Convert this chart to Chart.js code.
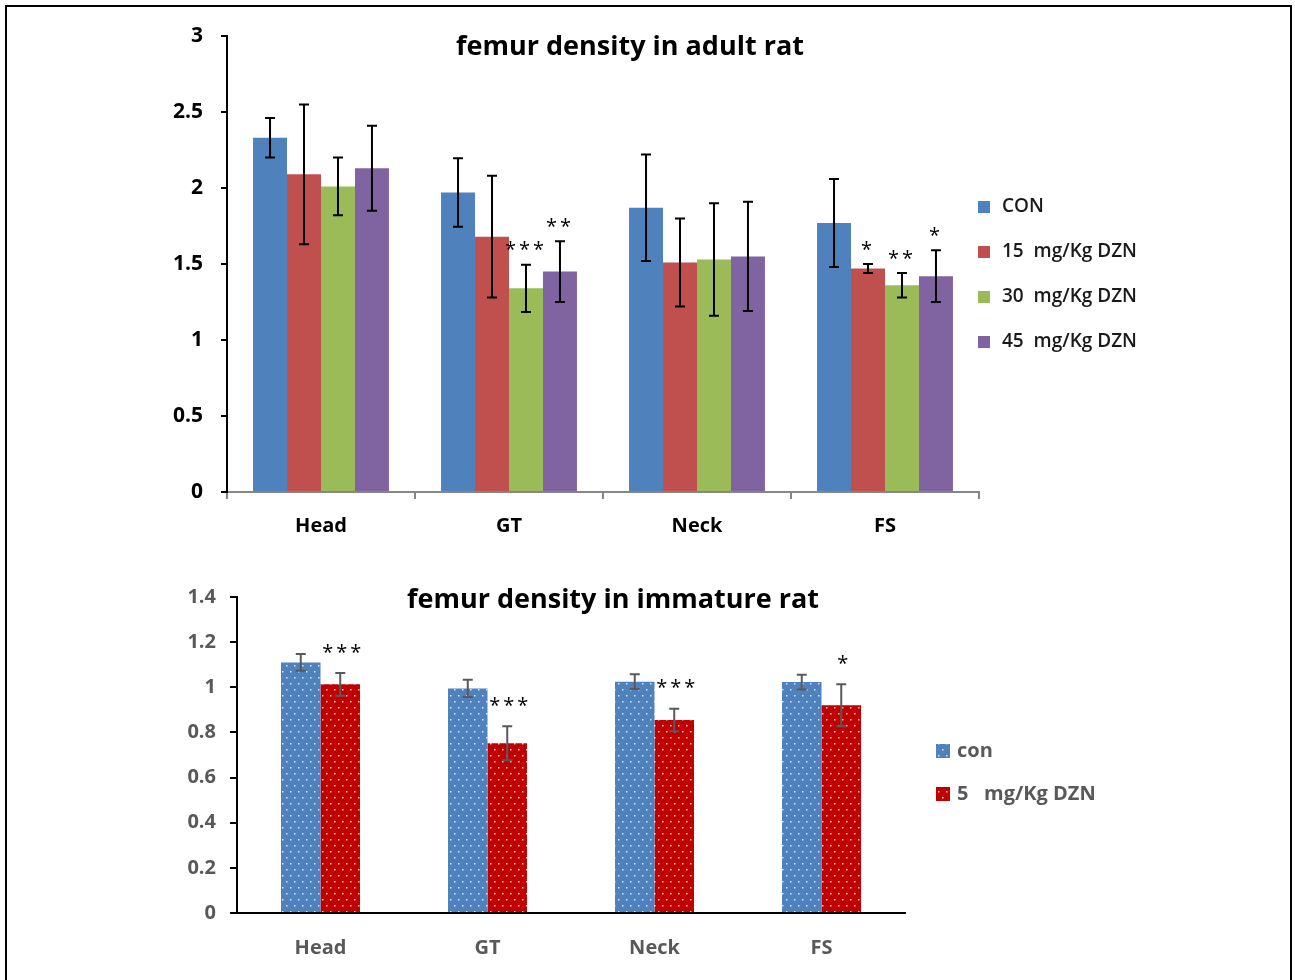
<!DOCTYPE html>
<html>
<head>
  <title>femur density</title>
  <script src="https://cdn.jsdelivr.net/npm/chart.js"></script>
  <style>
    body { margin: 0; background: #fff; }
    #frame { position: absolute; left: 5px; top: 5px; width: 1283px; height: 1000px; border: 2px solid #000; }
    #adultBox { position: absolute; left: 0; top: 0; }
    #immBox { position: absolute; left: 0; top: 560px; }
  </style>
</head>
<body>
  <div id="frame"></div>
  <div id="adultBox"><canvas id="adultChart" width="1295" height="560"></canvas></div>
  <div id="immBox"><canvas id="immChart" width="1295" height="420"></canvas></div>

  <script>
    // adult rat
    const sites = ['Head', 'GT', 'Neck', 'FS'];
    const adultLabels = ['CON', '15  mg/Kg DZN', '30  mg/Kg DZN', '45  mg/Kg DZN'];
    const adultCon = [2.33, 1.97, 1.87, 1.77];
    const adult15 = [2.09, 1.68, 1.51, 1.47];
    const adult30 = [2.01, 1.34, 1.53, 1.36];
    const adult45 = [2.13, 1.45, 1.55, 1.42];
    const adultConErr = [0.13, 0.225, 0.35, 0.29];
    const adult15Err = [0.46, 0.40, 0.29, 0.03];
    const adult30Err = [0.19, 0.155, 0.37, 0.08];
    const adult45Err = [0.28, 0.20, 0.36, 0.17];
    const adult15Stars = ['', '', '', '*'];
    const adult30Stars = ['', '***', '', '**'];
    const adult45Stars = ['', '**', '', '*'];

    // immature rat
    const immLabels = ['con', '5   mg/Kg DZN'];
    const immCon = [1.11, 0.995, 1.025, 1.023];
    const immDzn = [1.013, 0.752, 0.855, 0.92];
    const immConErr = [0.037, 0.038, 0.033, 0.033];
    const immDznErr = [0.05, 0.075, 0.05, 0.093];
    const immDznStars = ['***', '***', '***', '*'];

    const FONT = "'Open Sans', 'Liberation Sans', sans-serif";
    const shortNum = v => String(Math.round(v * 10) / 10);

    function dotPattern(base) {
      const c = document.createElement('canvas');
      c.width = 8; c.height = 12;
      const g = c.getContext('2d');
      g.fillStyle = base;
      g.fillRect(0, 0, 8, 12);
      g.fillStyle = 'rgba(255,255,255,0.8)';
      g.fillRect(2, 3, 1.5, 1.5);
      g.fillRect(6, 9, 1.5, 1.5);
      return g.createPattern(c, 'repeat');
    }

    const errorBars = {
      id: 'errorBars',
      afterDatasetsDraw(chart, args, o) {
        const ctx = chart.ctx;
        const y = chart.scales.y;
        chart.data.datasets.forEach((ds, i) => {
          const meta = chart.getDatasetMeta(i);
          meta.data.forEach((bar, j) => {
            const v = ds.data[j], e = ds.errors[j];
            const top = y.getPixelForValue(v + e);
            const bot = y.getPixelForValue(v - e);
            ctx.save();
            ctx.strokeStyle = o.color;
            ctx.lineWidth = o.width;
            ctx.beginPath();
            ctx.moveTo(bar.x, top); ctx.lineTo(bar.x, bot);
            ctx.moveTo(bar.x - o.cap, top); ctx.lineTo(bar.x + o.cap, top);
            ctx.moveTo(bar.x - o.cap, bot); ctx.lineTo(bar.x + o.cap, bot);
            ctx.stroke();
            const s = ds.stars && ds.stars[j];
            if (s) {
              ctx.fillStyle = o.starColor;
              ctx.font = o.starFont;
              ctx.letterSpacing = '3px';
              ctx.textAlign = 'center';
              ctx.textBaseline = 'middle';
              ctx.fillText(s, bar.x + o.starDx, top - o.starGap);
            }
            ctx.restore();
          });
        });
      }
    };

    const sideLegend = {
      id: 'sideLegend',
      afterDraw(chart, args, o) {
        const ctx = chart.ctx;
        ctx.save();
        chart.data.datasets.forEach((ds, i) => {
          const cy = o.y + i * o.gap;
          ctx.fillStyle = ds.backgroundColor;
          ctx.fillRect(o.x, cy - o.box / 2, o.box, o.box);
          ctx.fillStyle = o.color;
          ctx.font = o.font;
          ctx.textAlign = 'left';
          ctx.textBaseline = 'middle';
          ctx.fillText(ds.label, o.x + o.box + o.textGap, cy);
        });
        ctx.restore();
      }
    };

    const freeTitle = {
      id: 'freeTitle',
      afterDraw(chart, args, o) {
        const ctx = chart.ctx;
        ctx.save();
        ctx.fillStyle = '#000';
        ctx.font = o.font;
        ctx.textAlign = 'center';
        ctx.textBaseline = 'middle';
        ctx.fillText(o.text, o.x, o.y);
        ctx.restore();
      }
    };

    new Chart(document.getElementById('adultChart'), {
      type: 'bar',
      data: {
        labels: sites,
        datasets: [
          { label: adultLabels[0], data: adultCon, errors: adultConErr, backgroundColor: '#4F81BD' },
          { label: adultLabels[1], data: adult15, errors: adult15Err, stars: adult15Stars, backgroundColor: '#C0504D' },
          { label: adultLabels[2], data: adult30, errors: adult30Err, stars: adult30Stars, backgroundColor: '#9BBB59' },
          { label: adultLabels[3], data: adult45, errors: adult45Err, stars: adult45Stars, backgroundColor: '#8064A2' }
        ]
      },
      options: {
        responsive: false,
        animation: false,
        datasets: { bar: { barPercentage: 1, categoryPercentage: 0.723 } },
        layout: { padding: { left: 147, right: 316, top: 36, bottom: 18 } },
        scales: {
          x: {
            afterFit(scale) { scale.height = 50; },
            grid: { drawOnChartArea: false, color: '#868686', tickLength: 7, lineWidth: 2 },
            border: { color: '#868686', width: 2 },
            ticks: { color: '#000', padding: 15, font: { family: FONT, size: 20, weight: 'bold' } }
          },
          y: {
            min: 0, max: 3,
            afterFit(scale) { scale.width = 80; },
            ticks: { stepSize: 0.5, color: '#000', padding: 18, callback: shortNum, font: { family: FONT, size: 21, weight: 'bold' } },
            grid: { drawOnChartArea: false, color: '#000', tickLength: 6, lineWidth: 2 },
            border: { color: '#000', width: 2 }
          }
        },
        plugins: {
          legend: { display: false },
          tooltip: { enabled: false },
          errorBars: { color: '#000', width: 2, cap: 5, starColor: '#000', starFont: '20px ' + FONT, starDx: 0, starGap: 14 },
          sideLegend: { x: 978, y: 207, gap: 45, box: 12, textGap: 12, color: '#1a1a1a', font: '600 19px ' + FONT },
          freeTitle: { text: 'femur density in adult rat', x: 630, y: 47, font: 'bold 27px ' + FONT }
        }
      },
      plugins: [errorBars, sideLegend, freeTitle]
    });

    new Chart(document.getElementById('immChart'), {
      type: 'bar',
      data: {
        labels: sites,
        datasets: [
          { label: immLabels[0], data: immCon, errors: immConErr, backgroundColor: dotPattern('#4F81BD') },
          { label: immLabels[1], data: immDzn, errors: immDznErr, stars: immDznStars, backgroundColor: dotPattern('#C00000') }
        ]
      },
      options: {
        responsive: false,
        animation: false,
        datasets: { bar: { barPercentage: 1, categoryPercentage: 0.473 } },
        layout: { padding: { left: 157, right: 390, top: 37, bottom: 17 } },
        scales: {
          x: {
            afterFit(scale) { scale.height = 50; },
            grid: { display: false },
            border: { color: '#000', width: 2 },
            ticks: { color: '#595959', padding: 15, font: { family: FONT, size: 20, weight: 'bold' } }
          },
          y: {
            min: 0, max: 1.4,
            afterFit(scale) { scale.width = 80; },
            ticks: { stepSize: 0.2, color: '#595959', padding: 14, callback: shortNum, font: { family: FONT, size: 20, weight: 'bold' } },
            grid: { drawOnChartArea: false, color: '#000', tickLength: 7, lineWidth: 2 },
            border: { color: '#000', width: 2 }
          }
        },
        plugins: {
          legend: { display: false },
          tooltip: { enabled: false },
          errorBars: { color: '#595959', width: 2, cap: 5, starColor: '#000', starFont: '20px ' + FONT, starDx: 3, starGap: 20 },
          sideLegend: { x: 936, y: 191, gap: 43, box: 14, textGap: 7, color: '#595959', font: 'bold 20px ' + FONT },
          freeTitle: { text: 'femur density in immature rat', x: 613, y: 40, font: 'bold 27px ' + FONT }
        }
      },
      plugins: [errorBars, sideLegend, freeTitle]
    });
  </script>
</body>
</html>
